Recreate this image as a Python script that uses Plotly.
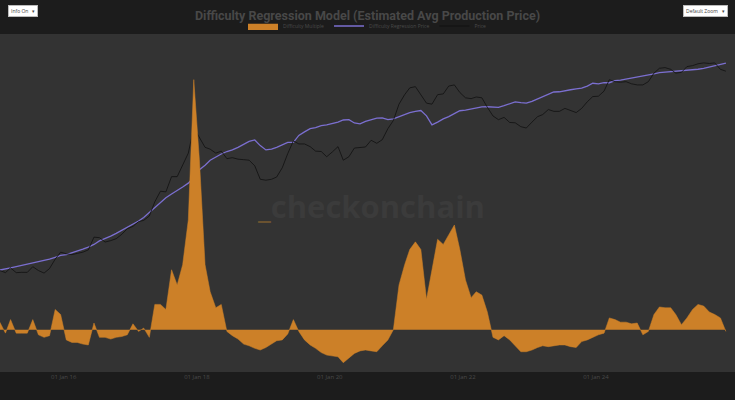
import pandas as pd
import plotly.graph_objects as go

# monthly values, Jan 2015 .. Dec 2025
months = pd.date_range("2015-01-01", periods=132, freq="MS") + pd.Timedelta(days=14)

price = [
    250, 235, 270, 235, 237, 237, 280, 250, 232, 265, 350, 430,
    410, 400, 415, 430, 460, 670, 660, 580, 605, 640, 730, 860,
    920, 1060, 1100, 1250, 1900, 2600, 2550, 4000, 4000, 5500, 8000, 17000,
    12500, 9500, 9000, 8000, 8500, 6800, 7000, 6700, 6600, 6500, 5500, 3700,
    3600, 3700, 3950, 5200, 7900, 11500, 10500, 10500, 9700, 8500, 8400, 7200,
    8300, 9700, 6500, 7200, 9300, 9500, 9600, 11700, 10700, 11900, 16500, 21000,
    34000, 45000, 55000, 57000, 45000, 35000, 34000, 45000, 46000, 58000, 60000, 48000,
    41000, 40000, 42000, 41000, 31000, 24000, 21500, 23000, 19800, 19600, 17500, 16800,
    20000, 23500, 25000, 29000, 27500, 27500, 30000, 28000, 26500, 30000, 36500, 42500,
    43000, 50000, 70000, 66000, 65000, 66000, 62000, 60000, 60000, 66000, 85000, 98000,
    100000, 95000, 85000, 87000, 103000, 106000, 112000, 115000, 113000, 115000, 95000, 90000,
]

regression_price = [
    254, 260, 270, 280, 290, 300, 310, 320, 335, 350, 370, 390,
    400, 420, 440, 470, 500, 540, 600, 640, 690, 750, 820, 900,
    980, 1080, 1200, 1400, 1600, 1900, 2150, 2400, 2700, 2950, 3300, 3900,
    4900, 5600, 6500, 7200, 7800, 8400, 8800, 9500, 10300, 11300, 11800, 10000,
    8800, 9000, 9500, 10200, 11000, 11000, 13500, 15000, 16500, 17000, 18000, 18400,
    19000, 20000, 21300, 21500, 19500, 19000, 20500, 21500, 22500, 22600, 21500, 22000,
    23500, 25000, 26500, 27500, 28200, 24100, 18400, 20000, 22000, 23500, 26000, 28000,
    28500, 29500, 30500, 31300, 31500, 31300, 31000, 32500, 34000, 36300, 35500, 35000,
    37000, 39500, 42000, 45000, 48700, 49000, 51000, 52000, 53500, 54600, 58000, 63000,
    62000, 64000, 64000, 68000, 69000, 71000, 73000, 75000, 77000, 79000, 83000, 86000,
    87300, 88000, 89000, 90000, 92000, 94000, 95300, 98000, 102000, 106000, 110000, 113900,
]

difficulty_multiple = [
    0.09, -0.04, 0.12, -0.04, -0.04, -0.04, 0.12, -0.06, -0.09, -0.07, 0.24, 0.18,
    -0.12, -0.15, -0.15, -0.17, -0.18, 0.08, -0.09, -0.09, -0.11, -0.09, -0.08, -0.06,
    0.07, -0.02, 0.02, -0.09, 0.30, 0.30, 0.24, 0.71, 0.53, 0.77, 1.30, 2.96,
    2.01, 0.77, 0.45, 0.26, 0.30, -0.02, -0.07, -0.11, -0.17, -0.19, -0.22, -0.24,
    -0.21, -0.17, -0.13, -0.12, -0.05, 0.12, -0.02, -0.12, -0.18, -0.22, -0.27, -0.30,
    -0.31, -0.32, -0.39, -0.33, -0.28, -0.25, -0.24, -0.25, -0.26, -0.19, -0.12, 0.00,
    0.53, 0.77, 0.95, 1.04, 0.95, 0.36, 0.71, 1.07, 1.01, 1.12, 1.24, 0.95,
    0.59, 0.38, 0.45, 0.41, 0.21, -0.09, -0.12, -0.07, -0.12, -0.19, -0.26, -0.26,
    -0.24, -0.21, -0.19, -0.20, -0.19, -0.18, -0.18, -0.20, -0.21, -0.14, -0.12, -0.09,
    -0.06, -0.04, 0.14, 0.12, 0.09, 0.09, 0.07, 0.08, -0.06, -0.02, 0.18, 0.27,
    0.26, 0.26, 0.18, 0.06, 0.14, 0.24, 0.30, 0.28, 0.21, 0.18, 0.14, -0.02,
]

x_range = ["2015-01-16", "2026-02-03"]

fig = go.Figure()

fig.add_trace(go.Scatter(
    x=months, y=difficulty_multiple, name="Difficulty Multiple", yaxis="y2",
    mode="lines", line=dict(color="#cc8028", width=0.5),
    fill="tozeroy", fillcolor="#cc8028",
))
fig.add_trace(go.Scatter(
    x=months, y=regression_price, name="Difficulty Regression Price",
    mode="lines", line=dict(color="#7b6fd0", width=1.3),
))
fig.add_trace(go.Scatter(
    x=months, y=price, name="Price",
    mode="lines", line=dict(color="#101010", width=0.8),
))

# watermark
fig.add_annotation(
    text="<span style='color:#6a5230'>_</span>checkonchain",
    xref="paper", yref="paper", x=0.505, y=0.492, showarrow=False,
    font=dict(family="Open Sans", size=31, color="#3b3b3b", weight="bold"),
)

# the two small menu boxes in the top corners
fig.add_annotation(
    text="Info On   ▾", xref="paper", yref="paper", x=0.011, y=1.067,
    xanchor="left", yanchor="middle", showarrow=False,
    bgcolor="white", bordercolor="#bbbbbb", borderwidth=1, borderpad=2,
    font=dict(size=5, color="#444444"),
)
fig.add_annotation(
    text="Default Zoom   ▾", xref="paper", yref="paper", x=0.991, y=1.067,
    xanchor="right", yanchor="middle", showarrow=False,
    bgcolor="white", bordercolor="#bbbbbb", borderwidth=1, borderpad=2,
    font=dict(size=5, color="#444444"),
)

fig.update_layout(
    width=735, height=400,
    paper_bgcolor="#1c1c1c", plot_bgcolor="#333333",
    margin=dict(l=0, r=0, t=34, b=28, autoexpand=False),
    title=dict(
        text="<b>Difficulty Regression Model (Estimated Avg Production Price)</b>",
        x=0.5, y=0.96, xanchor="center", yanchor="middle", yref="container",
        font=dict(family="Roboto", size=12.5, color="#484848"),
    ),
    legend=dict(
        orientation="h", x=0.5, xanchor="center", y=0.935, yanchor="middle",
        yref="container", font=dict(size=5, color="#4a4a4a"),
        bgcolor="rgba(0,0,0,0)", itemwidth=30, tracegroupgap=0,
    ),
    showlegend=True,
    xaxis=dict(
        range=x_range, showgrid=False, zeroline=False, automargin=False,
        tick0="2016-01-01", dtick="M24", tickformat="%d %b %y",
        tickfont=dict(size=6, color="#4a4a4a"), ticks="",
    ),
    yaxis=dict(
        type="log", range=[1.097, 5.431], visible=False, showgrid=False,
    ),
    yaxis2=dict(
        overlaying="y", range=[-0.5, 3.5], visible=False, showgrid=False,
        zeroline=False,
    ),
)

fig.write_html(
    "out.html",
    config={"displayModeBar": False},
    post_script="document.body.style.margin = '0';",
)
